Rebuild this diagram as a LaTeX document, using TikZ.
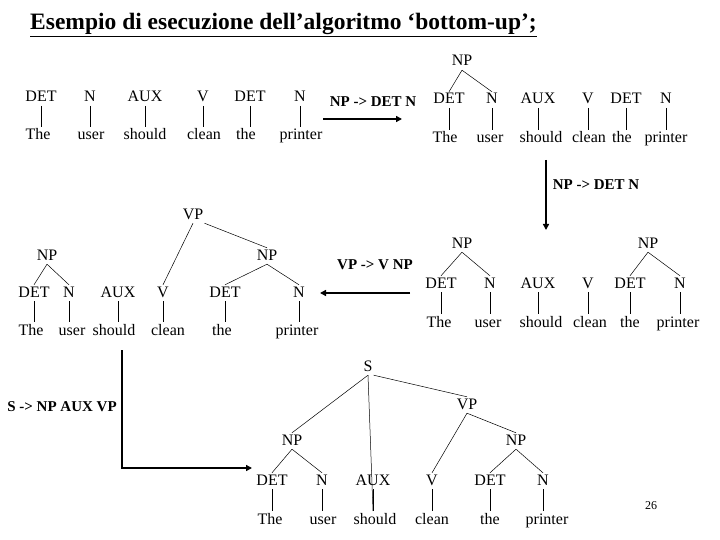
\documentclass[tikz,border=0pt]{standalone}
\usepackage{fontspec}
\setmainfont{Liberation Serif}
\usetikzlibrary{arrows.meta}
\begin{document}
\begin{tikzpicture}[x=1pt,y=-1pt,
  w/.style={inner sep=1pt,text height=11pt,text depth=3pt,font=\fontsize{16}{17}\selectfont},
  lab/.style={inner sep=1pt,text height=11pt,text depth=3pt,font=\fontsize{15}{16}\selectfont\bfseries},
  br/.style={line width=0.5pt},
  big/.style={line width=2pt,-{Triangle[length=6pt,width=6pt]}}]
\useasboundingbox (0,0) rectangle (720,540);
\node[inner sep=0,anchor=west,font=\fontsize{23.5}{24}\selectfont\bfseries] (title) at (30,25) {\underline{Esempio di esecuzione dell’algoritmo ‘bottom-up’;}};
\newcommand\leafrow[4]{%
  \foreach \xc/\c/\xw/\t [count=\i] in {#4} {
    \node[w] (#1c\i) at (\xc,#2) {\c};
    \node[w] (#1w\i) at (\xw,#3) {\t};
    \draw[br] (\xc,#2+8) -- (\xc,#3-9);
  }}
% panel 1
\leafrow{a}{98}{136}{41/DET/38/The,90/N/91/user,145/AUX/145/should,203/V/204/clean,250/DET/246/the,300/N/301/printer}
\node[lab] (l1) at (373,103) {NP -> DET N};
\coordinate (a1s) at (323,119); \coordinate (a1e) at (402,119);
\draw[big] (a1s) -- (a1e);
% panel 1 right
\node[w] (bnp) at (462,62) {NP};
\leafrow{b}{100}{139}{449/DET/445/The,492/N/490/user,538/AUX/541/should,588/V/589/clean,626/DET/622/the,666/N/666/printer}
\draw[br] (bnp.south) -- (bc1.north); \draw[br] (bnp.south) -- (bc2.north);
\coordinate (d1s) at (546,160); \coordinate (d1e) at (546,230);
\draw[big] (d1s) -- (d1e);
\node[lab] (l2) at (596,186) {NP -> DET N};
% panel 2 right
\leafrow{c}{284}{323}{441/DET/439/The,490/N/488/user,538/AUX/541/should,588/V/590/clean,630/DET/630/the,680/N/678/printer}
\node[w] (cnp1) at (462,244) {NP};
\node[w] (cnp2) at (648,244) {NP};
\draw[br] (cnp1.south) -- (cc1.north); \draw[br] (cnp1.south) -- (cc2.north);
\draw[br] (cnp2.south) -- (cc5.north); \draw[br] (cnp2.south) -- (cc6.north);
\coordinate (e1s) at (410,293); \coordinate (e1e) at (320,293);
\draw[big] (e1s) -- (e1e);
\node[lab] (l3) at (375,265) {VP -> V NP};
% panel 2 left
\leafrow{d}{293}{331}{34/DET/31/The,69/N/72/user,118/AUX/114/should,163/V/168/clean,225/DET/222/the,299/N/297/printer}
\node[w] (dvp) at (193,215) {VP};
\node[w] (dnp1) at (47,256) {NP};
\node[w] (dnp2) at (267,256) {NP};
\draw[br] (dnp1.south) -- (dc1.north); \draw[br] (dnp1.south) -- (dc2.north);
\draw[br] (dnp2.south) -- (dc5.north); \draw[br] (dnp2.south) -- (dc6.north);
\draw[br] (dvp.south) -- (dc4.north); \draw[br] (dvp.south east) -- (dnp2.north);
% panel 3
\node[lab] (l4) at (62,407) {S -> NP AUX VP};
\coordinate (f0) at (122,350); \coordinate (f1) at (122,468); \coordinate (f2) at (252,468);
\draw[big] (f0) -- (f1) -- (f2);
\leafrow{e}{481}{520}{272/DET/270/The,322/N/323/user,373/AUX/375/should,432/V/432/clean,490/DET/490/the,543/N/547/printer}
\node[w] (es) at (368,367) {S};
\node[w] (evp) at (467,405) {VP};
\node[w] (enp1) at (292,441) {NP};
\node[w] (enp2) at (516,441) {NP};
\draw[br] (es.south) -- (enp1.north); \draw[br] (es.south east) -- (evp.north);
\draw[br] (es.south) -- (373,511);
\draw[br] (evp.south) -- (ec4.north); \draw[br] (evp.south) -- (enp2.north);
\draw[br] (enp1.south) -- (ec1.north); \draw[br] (enp1.south) -- (ec2.north);
\draw[br] (enp2.south) -- (ec5.north); \draw[br] (enp2.south) -- (ec6.north);
\node[inner sep=0,font=\fontsize{12}{13}\selectfont] (pg) at (651,506) {26};
\end{tikzpicture}
\end{document}
